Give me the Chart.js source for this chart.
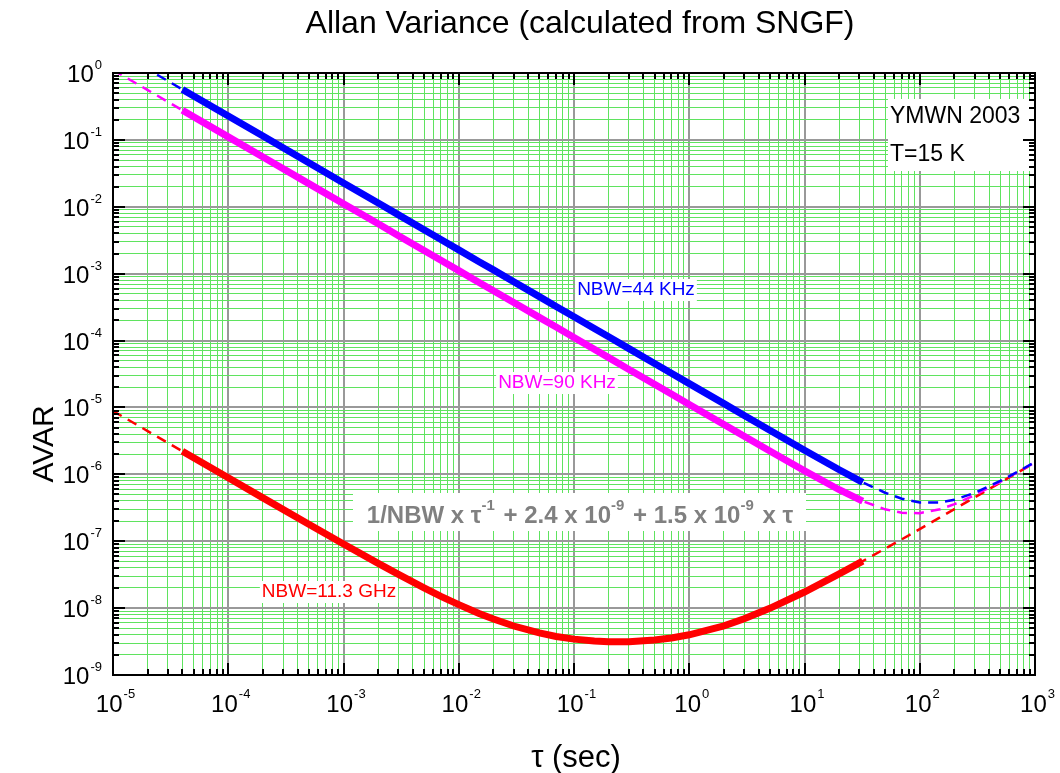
<!DOCTYPE html>
<html>
<head>
<meta charset="utf-8">
<title>Allan Variance</title>
<script src="https://cdn.jsdelivr.net/npm/chart.js@4"></script>
<style>
  html, body { margin: 0; padding: 0; background: #fff; }
</style>
</head>
<body>
<canvas id="avarChart" width="1060" height="773"></canvas>
<script>
// tau (sec) and AVAR values
var tau = [1e-5, 2e-5, 4e-5, 1e-4, 2e-4, 5e-4, 1e-3, 2e-3, 3e-3, 5e-3, 7e-3, 1e-2, 1.5e-2, 2e-2, 3e-2, 5e-2, 7e-2, 0.1, 0.15, 0.2, 0.3, 0.5, 0.7, 1, 2, 3, 5, 10, 20, 32, 50, 70, 100, 150, 200, 300, 500, 700, 1000];
var avar44k = [2.27, 1.14, 0.568, 0.227, 0.114, 0.0454, 0.0227, 0.0114, 7.57e-3, 4.54e-3, 3.24e-3, 2.27e-3, 1.51e-3, 1.14e-3, 7.57e-4, 4.54e-4, 3.24e-4, 2.27e-4, 1.51e-4, 1.14e-4, 7.57e-5, 4.54e-5, 3.24e-5, 2.27e-5, 1.14e-5, 7.57e-6, 4.55e-6, 2.29e-6, 1.17e-6, 7.6e-7, 5.31e-7, 4.32e-7, 3.79e-7, 3.79e-7, 4.16e-7, 5.28e-7, 7.98e-7, 1.08e-6, 1.53e-6];
var avar90k = [1.11, 0.556, 0.278, 0.111, 0.0556, 0.0222, 0.0111, 5.56e-3, 3.7e-3, 2.22e-3, 1.59e-3, 1.11e-3, 7.4e-4, 5.56e-4, 3.7e-4, 2.22e-4, 1.59e-4, 1.11e-4, 7.4e-5, 5.56e-5, 3.7e-5, 2.22e-5, 1.59e-5, 1.11e-5, 5.56e-6, 3.7e-6, 2.23e-6, 1.13e-6, 5.88e-7, 3.97e-7, 3.0e-7, 2.66e-7, 2.63e-7, 3.01e-7, 3.58e-7, 4.89e-7, 7.74e-7, 1.07e-6, 1.51e-6];
var avar11g = [8.85e-6, 4.43e-6, 2.21e-6, 8.87e-7, 4.45e-7, 1.79e-7, 9.09e-8, 4.67e-8, 3.19e-8, 2.01e-8, 1.50e-8, 1.13e-8, 8.32e-9, 6.86e-9, 5.40e-9, 4.25e-9, 3.77e-9, 3.44e-9, 3.22e-9, 3.14e-9, 3.15e-9, 3.33e-9, 3.58e-9, 3.99e-9, 5.44e-9, 6.93e-9, 9.92e-9, 1.74e-8, 3.24e-8, 5.04e-8, 7.74e-8, 1.07e-7, 1.52e-7, 2.27e-7, 3.02e-7, 4.52e-7, 7.52e-7, 1.05e-6, 1.50e-6];

// measured part (solid); the rest is the model curve (dashed)
var solidFrom = 4e-5;
var solidTo = 32;

var xExps = [-5, -4, -3, -2, -1, 0, 1, 2, 3];
var yExps = [-9, -8, -7, -6, -5, -4, -3, -2, -1, 0];

var FONT = "'Liberation Sans', Arial, sans-serif";

function points(vals, from, to) {
    var out = [];
    for (var i = 0; i < tau.length; i++) {
        if (tau[i] >= from && tau[i] <= to) out.push({ x: tau[i], y: vals[i] });
    }
    return out;
}

function logTicks(exps) {
    var t = [];
    for (var i = 0; i < exps.length; i++) {
        for (var k = 1; k <= 9; k++) {
            if (i === exps.length - 1 && k > 1) break;
            t.push({ value: k * Math.pow(10, exps[i]) });
        }
    }
    return t;
}

function isDecade(v) {
    var l = Math.log10(v);
    return Math.abs(l - Math.round(l)) < 1e-6;
}

function solid(vals, color) {
    return { data: points(vals, solidFrom, solidTo), borderColor: color, borderWidth: 7, pointRadius: 0, tension: 0, clip: 0 };
}
function dashed(vals, color) {
    return { data: points(vals, 0, Infinity), borderColor: color, borderWidth: 2.5, borderDash: [10, 7], pointRadius: 0, tension: 0, clip: 0 };
}

function drawPower(ctx, exp, x, y, align, big, small, rise) {
    ctx.font = big + "px " + FONT;
    var w1 = ctx.measureText("10").width;
    ctx.font = small + "px " + FONT;
    var w2 = ctx.measureText(String(exp)).width;
    var x0 = align === "center" ? x - (w1 + w2) / 2 : x - (w1 + w2);
    ctx.textAlign = "left";
    ctx.textBaseline = "alphabetic";
    ctx.font = big + "px " + FONT;
    ctx.fillText("10", x0, y);
    ctx.font = small + "px " + FONT;
    ctx.fillText(String(exp), x0 + w1 + 1, y - rise);
}

function boxText(ctx, text, color, font, cx, cy, padX, padY) {
    ctx.font = font;
    var w = ctx.measureText(text).width;
    ctx.fillStyle = "#fff";
    ctx.fillRect(cx - w / 2 - padX, cy - 10 - padY, w + 2 * padX, 20 + 2 * padY);
    ctx.fillStyle = color;
    ctx.textAlign = "center";
    ctx.textBaseline = "middle";
    ctx.fillText(text, cx, cy);
}

// formula with superscripts, parts = [text, isSuper]
var formulaParts = [["1/NBW x \u03c4", false], ["-1", true], [" + 2.4 x 10", false], ["-9", true], [" + 1.5 x 10", false], ["-9", true], [" x \u03c4", false]];

var decorPlugin = {
    id: "decor",
    afterDraw: function (chart) {
        var ctx = chart.ctx;
        var a = chart.chartArea;
        var xs = chart.scales.x, ys = chart.scales.y;
        ctx.save();

        // text boxes inside the plot
        boxText(ctx, "NBW=44 KHz", "#0000ff", "19px " + FONT, 636, 290, 2, 1);
        boxText(ctx, "NBW=90 KHz", "#ff00ff", "19px " + FONT, 557, 383, 2, 1);
        boxText(ctx, "NBW=11.3 GHz", "#ff0000", "19px " + FONT, 329, 592, 2, 1);

        ctx.fillStyle = "#fff";
        ctx.fillRect(888, 99, 143, 72);
        ctx.fillStyle = "#000";
        ctx.font = "23px " + FONT;
        ctx.textAlign = "left";
        ctx.textBaseline = "alphabetic";
        ctx.fillText("YMWN 2003", 890, 123);
        ctx.fillText("T=15 K", 890, 161);

        // formula
        ctx.fillStyle = "#fff";
        ctx.fillRect(353, 493, 453, 38);
        var total = 0;
        formulaParts.forEach(function (p) {
            ctx.font = "bold " + (p[1] ? 15 : 24) + "px " + FONT;
            total += ctx.measureText(p[0]).width + (p[1] ? 2 : 0);
        });
        var fx = 580 - total / 2, fy = 523;
        ctx.fillStyle = "#808080";
        formulaParts.forEach(function (p) {
            ctx.font = "bold " + (p[1] ? 15 : 24) + "px " + FONT;
            ctx.fillText(p[0], fx, p[1] ? fy - 13 : fy);
            fx += ctx.measureText(p[0]).width + (p[1] ? 2 : 0);
        });

        // frame and inward ticks
        ctx.strokeStyle = "#000";
        ctx.lineWidth = 2;
        ctx.strokeRect(a.left, a.top, a.right - a.left, a.bottom - a.top);
        ctx.beginPath();
        xs.ticks.forEach(function (t) {
            var px = Math.round(xs.getPixelForValue(t.value));
            var len = isDecade(t.value) ? 12 : 6;
            ctx.moveTo(px, a.bottom); ctx.lineTo(px, a.bottom - len);
            ctx.moveTo(px, a.top); ctx.lineTo(px, a.top + len);
        });
        ys.ticks.forEach(function (t) {
            var py = Math.round(ys.getPixelForValue(t.value));
            var len = isDecade(t.value) ? 12 : 6;
            ctx.moveTo(a.left, py); ctx.lineTo(a.left + len, py);
            ctx.moveTo(a.right, py); ctx.lineTo(a.right - len, py);
        });
        ctx.stroke();

        // tick labels
        ctx.fillStyle = "#000";
        xExps.forEach(function (e) {
            drawPower(ctx, e, xs.getPixelForValue(Math.pow(10, e)) + 2, 712, "center", 24, 13, 14);
        });
        yExps.forEach(function (e) {
            drawPower(ctx, e, 101, ys.getPixelForValue(Math.pow(10, e)) + 9, "right", 24, 13, 13);
        });

        // titles
        ctx.textAlign = "center";
        ctx.textBaseline = "alphabetic";
        ctx.font = "32px " + FONT;
        ctx.fillText("Allan Variance (calculated from SNGF)", 580, 33);
        ctx.font = "31px " + FONT;
        ctx.fillText("\u03c4 (sec)", 576, 767);
        ctx.save();
        ctx.translate(53, 444);
        ctx.rotate(-Math.PI / 2);
        ctx.font = "30px " + FONT;
        ctx.fillText("AVAR", 0, 0);
        ctx.restore();

        ctx.restore();
    }
};

var gridColor = function (c) {
    return c.tick && isDecade(c.tick.value) ? "#999999" : "#5fe35f";
};
var gridWidth = function (c) {
    return c.tick && isDecade(c.tick.value) ? 2 : 1;
};

new Chart(document.getElementById("avarChart"), {
    type: "line",
    data: {
        datasets: [
            solid(avar44k, "#0000ff"),
            solid(avar90k, "#ff00ff"),
            solid(avar11g, "#ff0000"),
            dashed(avar44k, "#0000ff"),
            dashed(avar90k, "#ff00ff"),
            dashed(avar11g, "#ff0000")
        ]
    },
    options: {
        responsive: false,
        animation: false,
        devicePixelRatio: 1,
        layout: { padding: { left: 113, top: 73, right: 25, bottom: 98 } },
        plugins: { legend: { display: false }, tooltip: { enabled: false } },
        scales: {
            x: {
                type: "logarithmic",
                min: 1e-5,
                max: 1e3,
                afterBuildTicks: function (s) { s.ticks = logTicks(xExps); },
                ticks: { display: false, autoSkip: false },
                grid: { color: gridColor, lineWidth: gridWidth, drawTicks: false },
                border: { display: false }
            },
            y: {
                type: "logarithmic",
                min: 1e-9,
                max: 1,
                afterBuildTicks: function (s) { s.ticks = logTicks(yExps); },
                ticks: { display: false, autoSkip: false },
                grid: { color: gridColor, lineWidth: gridWidth, drawTicks: false },
                border: { display: false }
            }
        }
    },
    plugins: [decorPlugin]
});
</script>
</body>
</html>
